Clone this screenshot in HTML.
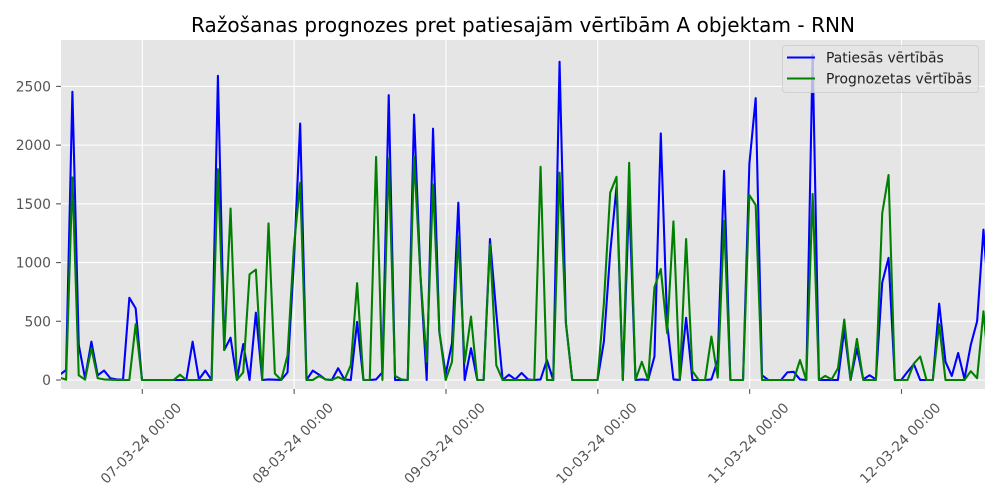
<!DOCTYPE html>
<html>
<head>
<meta charset="utf-8">
<title>Ražošanas prognozes</title>
<style>
html,body{margin:0;padding:0;background:#fff;width:1000px;height:500px;overflow:hidden}
svg{display:block;font-family:"DejaVu Sans","Liberation Sans",sans-serif}
</style>
</head>
<body>
<svg id="chart" width="1000" height="500" viewBox="0 0 1000 500" xmlns="http://www.w3.org/2000/svg">
  <defs><clipPath id="plot-clip"><rect x="61" y="40" width="924" height="349"/></clipPath></defs>
  <rect x="61" y="40" width="924" height="349" fill="#E5E5E5"/>
  <g id="grid"></g>
  <g id="ticks"></g>
  <g id="series" clip-path="url(#plot-clip)"></g>
  <text x="523" y="32" text-anchor="middle" font-size="20" textLength="664" lengthAdjust="spacing" fill="#000">Ražošanas prognozes pret patiesajām vērtībām A objektam - RNN</text>
  <g>
    <rect x="782.5" y="45.5" width="196" height="47" rx="3" fill="#E5E5E5" fill-opacity="0.8" stroke="#CCCCCC" stroke-opacity="0.8"/>
    <line x1="787" x2="815" y1="57.5" y2="57.5" stroke="#0000FF" stroke-width="2.08"/>
    <text x="826" y="62.5" font-size="13.89" fill="#222">Patiesās vērtībās</text>
    <line x1="787" x2="815" y1="78.5" y2="78.5" stroke="#008000" stroke-width="2.08"/>
    <text x="826" y="83.5" font-size="13.89" fill="#222">Prognozetas vērtībās</text>
  </g>
</svg>
<script>
// Chart data: one value per hour, relative to midnight of 07-03-24.
const startHour = -13;
const actualValues = [
  45,85,2454,300,15,326,40,80,15,5,3,700,610,
  0,0,0,0,0,0,0,0,326,5,80,0,
  2590,255,360,0,306,0,573,0,5,3,0,65,1000,
  2184,0,80,45,5,0,100,5,0,495,0,0,
  5,65,2425,0,0,0,2260,900,0,2140,410,50,
  315,1510,0,270,0,0,1200,570,0,45,5,60,
  5,0,5,170,0,2710,485,0,0,0,0,0,
  325,1080,1645,0,1560,0,5,0,200,2100,480,5,
  0,530,0,0,0,5,170,1780,0,0,0,1840,
  2400,40,0,0,0,65,70,5,0,2770,0,0,
  0,0,430,0,270,5,40,5,830,1040,0,0,
  70,135,0,0,0,650,155,35,230,10,300,500,1280,550
];
const predictedValues = [
  20,3,1725,40,3,270,15,5,3,0,0,0,475,
  0,0,0,0,0,0,45,0,0,0,0,0,
  1795,255,1460,0,65,900,940,0,1333,55,0,210,1130,
  1680,0,0,35,5,0,25,0,125,825,0,0,
  1900,0,1885,35,5,0,1900,900,155,1665,410,0,
  155,1220,150,540,0,0,1155,125,0,0,0,0,
  0,0,1815,0,0,1765,485,0,0,0,0,0,
  650,1595,1730,0,1850,0,155,0,790,945,400,1350,
  0,1200,75,0,0,370,20,1355,0,0,0,1575,
  1490,0,0,0,0,0,0,170,0,1585,0,35,
  5,100,515,0,350,0,0,0,1420,1745,0,0,
  0,140,200,0,0,475,0,0,0,0,75,15,585,0
];
const yTickValues = [0,500,1000,1500,2000,2500];
const xTickHours = [0,24,48,72,96,120];
const xTickLabels = ["07-03-24 00:00","08-03-24 00:00","09-03-24 00:00","10-03-24 00:00","11-03-24 00:00","12-03-24 00:00"];

const NS = "http://www.w3.org/2000/svg";
const plotLeft = 61, plotRight = 985, plotTop = 40, plotBottom = 389;
function xTickScale(h){ return 142.3 + h * 6.3267; }
function xScale(h){ return xTickScale(h) - 0.3; }
function yScale(v){ return 380 - v * 0.11744; }
function make(tag, attrs, parent){
  const el = document.createElementNS(NS, tag);
  for (const k in attrs) el.setAttribute(k, attrs[k]);
  parent.appendChild(el);
  return el;
}
const gridG = document.getElementById("grid");
const ticksG = document.getElementById("ticks");
const seriesG = document.getElementById("series");

yTickValues.forEach(function(v){
  const y = yScale(v);
  const g = make("line", {x1:plotLeft, x2:plotRight, y1:y, y2:y, stroke:"#fff", "stroke-width":1.1}, gridG);
  
  
  const t = make("line", {x1:plotLeft-4.9, x2:plotLeft, y1:y, y2:y, stroke:"#555", "stroke-width":1.1}, ticksG);
  
  
  const l = make("text", {x:plotLeft-10, y:y+5, "text-anchor":"end", "font-size":13.89, fill:"#555"}, ticksG);
  
  
  l.textContent = String(v);
});
xTickHours.forEach(function(h, i){
  const x = xTickScale(h);
  const g = make("line", {x1:x, x2:x, y1:plotTop, y2:plotBottom, stroke:"#fff", "stroke-width":1.1}, gridG);
  
  
  const t = make("line", {x1:x, x2:x, y1:plotBottom, y2:plotBottom+4.9, stroke:"#555", "stroke-width":1.1}, ticksG);
  
  
  const cx = x - 1.5, cy = 443;
  const l = make("text", {x:cx, y:cy+5, "text-anchor":"middle", "font-size":13.89, fill:"#555", transform:"rotate(-45 "+cx+" "+cy+")"}, ticksG);
  
  
  l.textContent = xTickLabels[i];
});
function linePoints(values){
  return values.map(function(v, i){
    return xScale(startHour + i).toFixed(2) + "," + yScale(v).toFixed(2);
  }).join(" ");
}
const actualLine = make("polyline", {points:linePoints(actualValues), fill:"none", stroke:"#0000FF", "stroke-width":2.08, "stroke-linejoin":"round"}, seriesG);


const predictedLine = make("polyline", {points:linePoints(predictedValues), fill:"none", stroke:"#008000", "stroke-width":2.08, "stroke-linejoin":"round"}, seriesG);


</script>
</body>
</html>
